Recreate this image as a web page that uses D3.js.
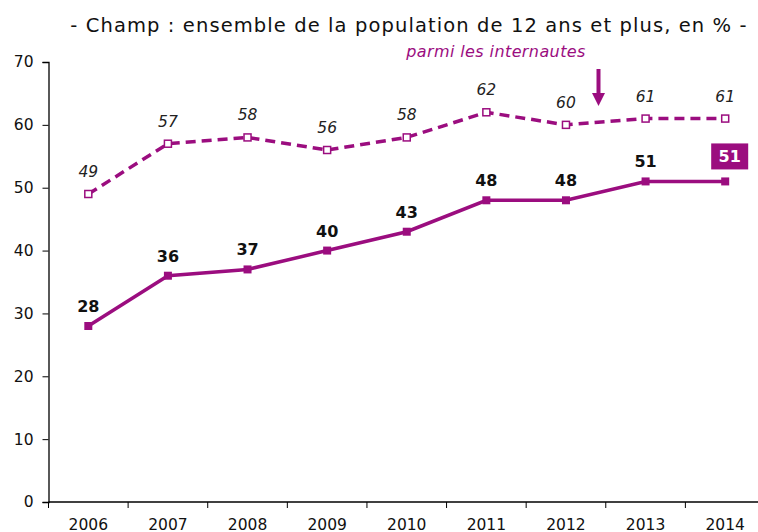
<!DOCTYPE html>
<html>
<head>
<meta charset="utf-8">
<script src="https://cdn.jsdelivr.net/npm/d3@7"></script>
<style>
  html, body { margin: 0; padding: 0; background: #fff; }
  svg { display: block; }
</style>
</head>
<body>
<svg id="chart" width="758" height="532"></svg>
<script>
// Years and the two series (% of people aged 12+ / % among internet users)
const years = ["2006", "2007", "2008", "2009", "2010", "2011", "2012", "2013", "2014"];
const ensemble = [28, 36, 37, 40, 43, 48, 48, 51, 51];
const internautes = [49, 57, 58, 56, 58, 62, 60, 61, 61];
const yTicks = [0, 10, 20, 30, 40, 50, 60, 70];

const color = "#9b0d7f";
const font = "DejaVu Sans";
const svg = d3.select("#chart");

const x = d3.scaleBand().domain(years).range([48.5, 765]);
const y = d3.scaleLinear().domain([0, 70]).range([502, 62]);
const cx = d => x(d) + x.bandwidth() / 2;

// Title
svg.append("text")
  .attr("x", 409).attr("y", 32)
  .attr("text-anchor", "middle")
  .attr("font-family", font)
  .attr("font-size", 19.5)
  .attr("letter-spacing", 1.1)
  .attr("fill", "#111")
  .text("- Champ : ensemble de la population de 12 ans et plus, en % -");

// Y axis
const yAxis = svg.append("g")
  .attr("transform", "translate(48.5,0)")
  .call(d3.axisLeft(y).tickValues(yTicks).tickSize(6).tickPadding(9));
yAxis.select(".domain").attr("stroke", "#000").attr("stroke-width", 1.3);
yAxis.selectAll(".tick line").attr("stroke", "#000");
yAxis.selectAll("text")
  .attr("font-family", font)
  .attr("font-size", 15.5).attr("fill", "#111");

// X axis with ticks between categories
const xAxis = svg.append("g").attr("transform", "translate(0,502)");
xAxis.append("line")
  .attr("x1", 48.5).attr("x2", 765).attr("stroke", "#000").attr("stroke-width", 1.5);
const bounds = years.map(d => x(d)).concat([x.range()[1]]);
xAxis.selectAll("line.tk").data(bounds).join("line")
  .attr("class", "tk")
  .attr("x1", d => d).attr("x2", d => d)
  .attr("y1", 0).attr("y2", 6)
  .attr("stroke", "#000");
xAxis.selectAll("text").data(years).join("text")
  .attr("x", d => cx(d)).attr("y", 27.5)
  .attr("text-anchor", "middle")
  .attr("font-family", font)
  .attr("font-size", 15.5).attr("fill", "#111")
  .text(d => d);

const line = d3.line().x((d, i) => cx(years[i])).y(d => y(d));

// Dashed series: among internet users
svg.append("path")
  .datum(internautes)
  .attr("d", line)
  .attr("fill", "none")
  .attr("stroke", color)
  .attr("stroke-width", 3.5)
  .attr("stroke-dasharray", "10,6");
svg.selectAll("rect.mi").data(internautes).join("rect")
  .attr("class", "mi")
  .attr("x", (d, i) => cx(years[i]) - 3.5)
  .attr("y", d => y(d) - 3.5)
  .attr("width", 7).attr("height", 7)
  .attr("fill", "#fff").attr("stroke", color).attr("stroke-width", 1.5);
svg.selectAll("text.li").data(internautes).join("text")
  .attr("class", "li")
  .attr("x", (d, i) => cx(years[i]))
  .attr("y", d => y(d) - 17)
  .attr("text-anchor", "middle")
  .attr("font-family", font)
  .attr("font-style", "italic")
  .attr("font-size", 15.5).attr("fill", "#222")
  .text(d => d);

// Solid series: whole population
svg.append("path")
  .datum(ensemble)
  .attr("d", line)
  .attr("fill", "none")
  .attr("stroke", color)
  .attr("stroke-width", 3.5);
svg.selectAll("rect.me").data(ensemble).join("rect")
  .attr("class", "me")
  .attr("x", (d, i) => cx(years[i]) - 4)
  .attr("y", d => y(d) - 4)
  .attr("width", 8).attr("height", 8)
  .attr("fill", color);

const last = ensemble.length - 1;
svg.selectAll("text.le").data(ensemble).join("text")
  .attr("class", "le")
  .attr("x", (d, i) => cx(years[i]))
  .attr("y", d => y(d) - 14)
  .attr("text-anchor", "middle")
  .attr("font-family", font)
  .attr("font-weight", "bold")
  .attr("font-size", 16).attr("fill", "#111")
  .text((d, i) => i === last ? "" : d);

// Highlighted last value
const lx = cx(years[last]) + 4;
const ly = y(ensemble[last]) - 25;
svg.append("rect")
  .attr("x", lx - 18).attr("y", ly - 13)
  .attr("width", 37).attr("height", 26)
  .attr("fill", color);
svg.append("text")
  .attr("x", lx + 0.5).attr("y", ly + 6)
  .attr("text-anchor", "middle")
  .attr("font-family", font)
  .attr("font-weight", "bold")
  .attr("font-size", 16).attr("fill", "#fff")
  .text(ensemble[last]);

// Annotation for the dashed series
svg.append("text")
  .attr("x", 496).attr("y", 57)
  .attr("text-anchor", "middle")
  .attr("font-family", font)
  .attr("font-style", "italic")
  .attr("font-size", 16)
  .attr("letter-spacing", 0.4)
  .attr("fill", color)
  .text("parmi les internautes");

// Arrow pointing to the dashed series
svg.append("line")
  .attr("x1", 598.5).attr("x2", 598.5)
  .attr("y1", 69).attr("y2", 95)
  .attr("stroke", color).attr("stroke-width", 4);
svg.append("path")
  .attr("d", "M592,93 L605,93 L598.5,106 Z")
  .attr("fill", color);
</script>
</body>
</html>
